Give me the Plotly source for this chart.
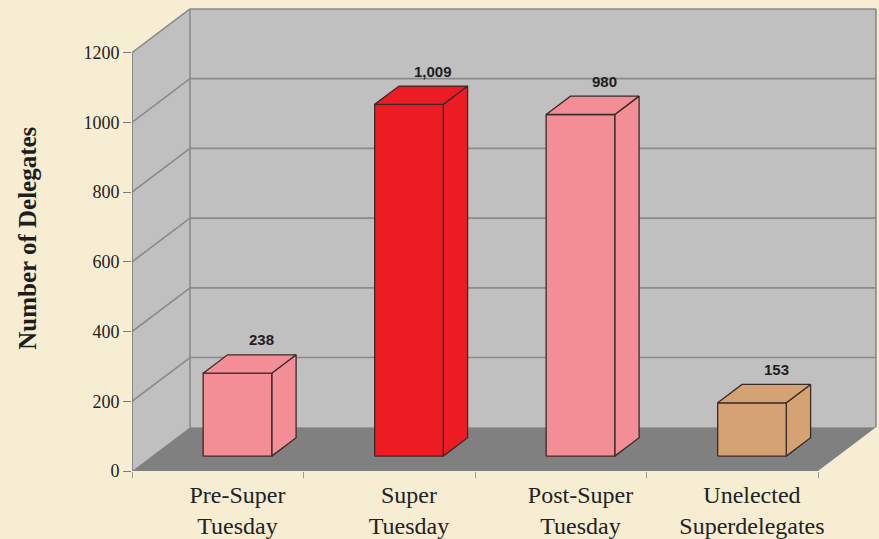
import plotly.graph_objects as go

# ---- data -------------------------------------------------------------
categories = ["Pre-Super<br>Tuesday", "Super<br>Tuesday",
              "Post-Super<br>Tuesday", "Unelected<br>Superdelegates"]
delegates = [238, 1009, 980, 153]
value_labels = ["238", "1,009", "980", "153"]
bar_colors = ["#F48E96", "#ED1C24", "#F48E96", "#D5A274"]
y_ticks = [0, 200, 400, 600, 800, 1000, 1200]

# ---- pseudo-3D geometry (in axis units) -------------------------------
WALL_TOP = 1200          # height of the walls in delegates
DX = 0.338               # full floor depth, horizontal component (category units)
DY = 125.4               # full floor depth, vertical component (delegate units)
HALF_W = 0.2             # half bar width (category units)
F0, F1 = 0.34, 0.76      # bar front / back position as fraction of floor depth
X0, X1 = -0.5, len(categories) - 0.5

BG = "#F7EDD2"
WALL = "#C0C0C0"
FLOOR = "#808080"
GRID = "#8A8A8A"
EDGE = "#3A2A2A"

fig = go.Figure()


def poly(xs, ys, fill, line_color, width=1.0):
    fig.add_trace(go.Scatter(
        x=list(xs) + [xs[0]], y=list(ys) + [ys[0]],
        mode="lines", fill="toself", fillcolor=fill,
        line=dict(color=line_color, width=width),
        hoverinfo="skip", showlegend=False))


def segs(pairs, color, width=1.2):
    xs, ys = [], []
    for (xa, ya), (xb, yb) in pairs:
        xs += [xa, xb, None]
        ys += [ya, yb, None]
    fig.add_trace(go.Scatter(x=xs, y=ys, mode="lines",
                             line=dict(color=color, width=width),
                             hoverinfo="skip", showlegend=False))


# walls and floor
poly([X0 + DX, X1 + DX, X1 + DX, X0 + DX],
     [DY, DY, WALL_TOP + DY, WALL_TOP + DY], WALL, WALL, 0)
poly([X0, X0 + DX, X0 + DX, X0],
     [0, DY, WALL_TOP + DY, WALL_TOP], WALL, WALL, 0)
poly([X0, X1, X1 + DX, X0 + DX], [0, 0, DY, DY], FLOOR, FLOOR, 0)

# gridlines on the side wall and back wall
grid_pairs = []
for v in y_ticks[1:]:
    grid_pairs.append(((X0, v), (X0 + DX, v + DY)))
    grid_pairs.append(((X0 + DX, v + DY), (X1 + DX, v + DY)))
segs(grid_pairs, GRID, 1.6)

# wall edges and value axis line
segs([((X0 + DX, DY), (X0 + DX, WALL_TOP + DY)),
      ((X1 + DX, DY), (X1 + DX, WALL_TOP + DY))], GRID, 1.6)
segs([((X0, 0), (X0, WALL_TOP))], "#7A7A7A", 1.6)

# bars: side, front and top faces
for i, (v, col) in enumerate(zip(delegates, bar_colors)):
    xl = i - HALF_W + F0 * DX
    xr = i + HALF_W + F0 * DX
    yb = F0 * DY
    yt = v + F0 * DY
    ddx = (F1 - F0) * DX
    ddy = (F1 - F0) * DY
    poly([xr, xr + ddx, xr + ddx, xr], [yb, yb + ddy, yt + ddy, yt], col, EDGE, 1.3)
    poly([xl, xr, xr, xl], [yb, yb, yt, yt], col, EDGE, 1.3)
    poly([xl, xr, xr + ddx, xl + ddx], [yt, yt, yt + ddy, yt + ddy], col, EDGE, 1.3)

# value labels above each bar
for i, (v, lab) in enumerate(zip(delegates, value_labels)):
    fig.add_annotation(
        x=i + F1 * DX, y=v + F1 * DY, text="<b>" + lab + "</b>",
        showarrow=False, yshift=15, yanchor="middle",
        font=dict(family="Liberation Sans, Arial, sans-serif", size=15,
                  color="#1E1E1E"),
        xref="x", yref="y")

# value axis title
fig.add_annotation(
    text="<b>Number of Delegates</b>", textangle=-90, showarrow=False,
    xref="paper", yref="paper", x=-0.14, y=0.494,
    xanchor="center", yanchor="middle",
    font=dict(family="Liberation Serif, Georgia, serif", size=25,
              color="#1E1E1E"))

label_pos = [i + F0 * DX for i in range(len(categories))]
boundaries = [X0 + k for k in range(len(categories) + 1)]

fig.update_layout(
    width=879, height=539,
    margin=dict(l=132, r=0, t=0, b=65),
    paper_bgcolor=BG, plot_bgcolor=BG,
    xaxis=dict(
        range=[X0, X0 + 747 / 171.5],
        showgrid=False, zeroline=False, showline=False,
        tickmode="array", tickvals=label_pos, ticktext=categories,
        ticks="", ticklabelstandoff=7,
        tickfont=dict(family="Liberation Serif, Georgia, serif", size=24,
                      color="#222222"),
        minor=dict(tickmode="array", tickvals=boundaries, ticks="outside",
                   ticklen=6, tickcolor="#9A9A9A", tickwidth=1.2,
                   showgrid=False),
    ),
    yaxis=dict(
        range=[0, 474 / (421 / 1200)],
        showgrid=False, zeroline=False, showline=False,
        tickmode="array", tickvals=y_ticks,
        ticks="outside", ticklen=8, tickcolor="#7A7A7A", tickwidth=1.2,
        tickfont=dict(family="Liberation Serif, Georgia, serif", size=18,
                      color="#222222"),
    ),
)

fig.write_html("out.html")
